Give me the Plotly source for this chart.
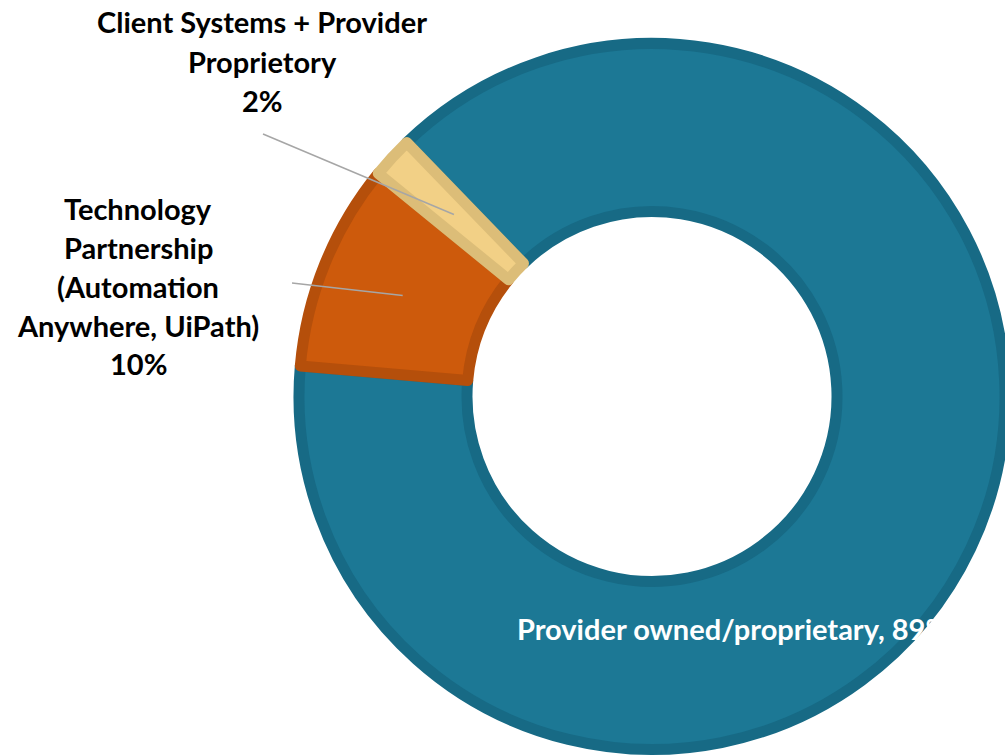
import math
import plotly.graph_objects as go

# ---- data ----
categories = [
    "Provider owned/proprietary",
    "Technology Partnership (Automation Anywhere, UiPath)",
    "Client Systems + Provider Proprietory",
]
values = [88.6, 9.5, 1.9]
pct_labels = ["89%", "10%", "2%"]
outside_label_lines = {
    1: ["Technology", "Partnership", "(Automation", "Anywhere, UiPath)"],
    2: ["Client Systems + Provider", "Proprietory"],
}

# ---- style ----
fill_colors = ["#1c7895", "#cd5a0c", "#f2d086"]
edge_colors = ["#176a85", "#b54f0b", "#dcbd78"]
W, H = 1005, 756
ROT = -44          # start angle of first slice (clockwise from 12 o'clock)
STROKE = 11
FONT = "Lato"
FSIZE = 29

# pie placement (paper domain)
cx_px, cy_px, R_px = 652, 396.5, 353
dom_x = [(cx_px - R_px) / W, 1.0]
dom_y = [((H - cy_px) - R_px) / H, ((H - cy_px) + R_px) / H]
hole = (179.5 + STROKE / 2) / R_px

fig = go.Figure(go.Pie(
    labels=categories,
    values=values,
    sort=False,
    direction="clockwise",
    rotation=ROT,
    hole=hole,
    textinfo="none",
    hoverinfo="label+percent",
    marker=dict(colors=fill_colors, line=dict(color=edge_colors, width=STROKE)),
    domain=dict(x=dom_x, y=dom_y),
    showlegend=False,
))

def px2paper(x, y):
    return x / W, 1 - y / H

annotations = []
shapes = []

# mid angles of slices -> leader line heads
total = sum(values)
start = ROT % 360
mids = []
acc = start
for v in values:
    span = v / total * 360
    mids.append(acc + span / 2)
    acc += span
rho = (179.5 + R_px + STROKE / 2) / 2

label_pos = {2: (262, 22), 1: (138, 208)}
tails = {2: (263, 134), 1: (292, 283)}
LINE_STEP = 39

for i, lines in outside_label_lines.items():
    lx, ly = label_pos[i]
    all_lines = lines + [pct_labels[i]]
    for k, t in enumerate(all_lines):
        px, py = px2paper(lx, ly + k * LINE_STEP)
        annotations.append(dict(
            x=px, y=py, xref="paper", yref="paper", text=t, showarrow=False,
            xanchor="center", yanchor="middle",
            font=dict(family=FONT, size=FSIZE, color="black", weight="bold"),
        ))
    th = math.radians(mids[i])
    hx = cx_px + rho * math.sin(th)
    hy = cy_px - rho * math.cos(th)
    tx, ty = tails[i]
    x0, y0 = px2paper(tx, ty)
    x1, y1 = px2paper(hx, hy)
    shapes.append(dict(type="line", xref="paper", yref="paper",
                       x0=x0, y0=y0, x1=x1, y1=y1,
                       line=dict(color="#a6a6a6", width=1.5)))

# inside label for the large slice
px, py = px2paper(515, 628)
annotations.append(dict(
    x=px, y=py, xref="paper", yref="paper",
    text=f"{categories[0]}, {pct_labels[0]}", showarrow=False,
    xanchor="left", yanchor="middle",
    font=dict(family=FONT, size=FSIZE, color="white", weight="bold"),
))

fig.update_layout(
    width=W, height=H,
    margin=dict(l=0, r=0, t=0, b=0),
    paper_bgcolor="white", plot_bgcolor="white",
    annotations=annotations, shapes=shapes,
)

fig.write_html(
    "out.html",
    config={"displayModeBar": False},
    post_script="document.body.style.margin='0';document.body.style.overflow='hidden';",
)
